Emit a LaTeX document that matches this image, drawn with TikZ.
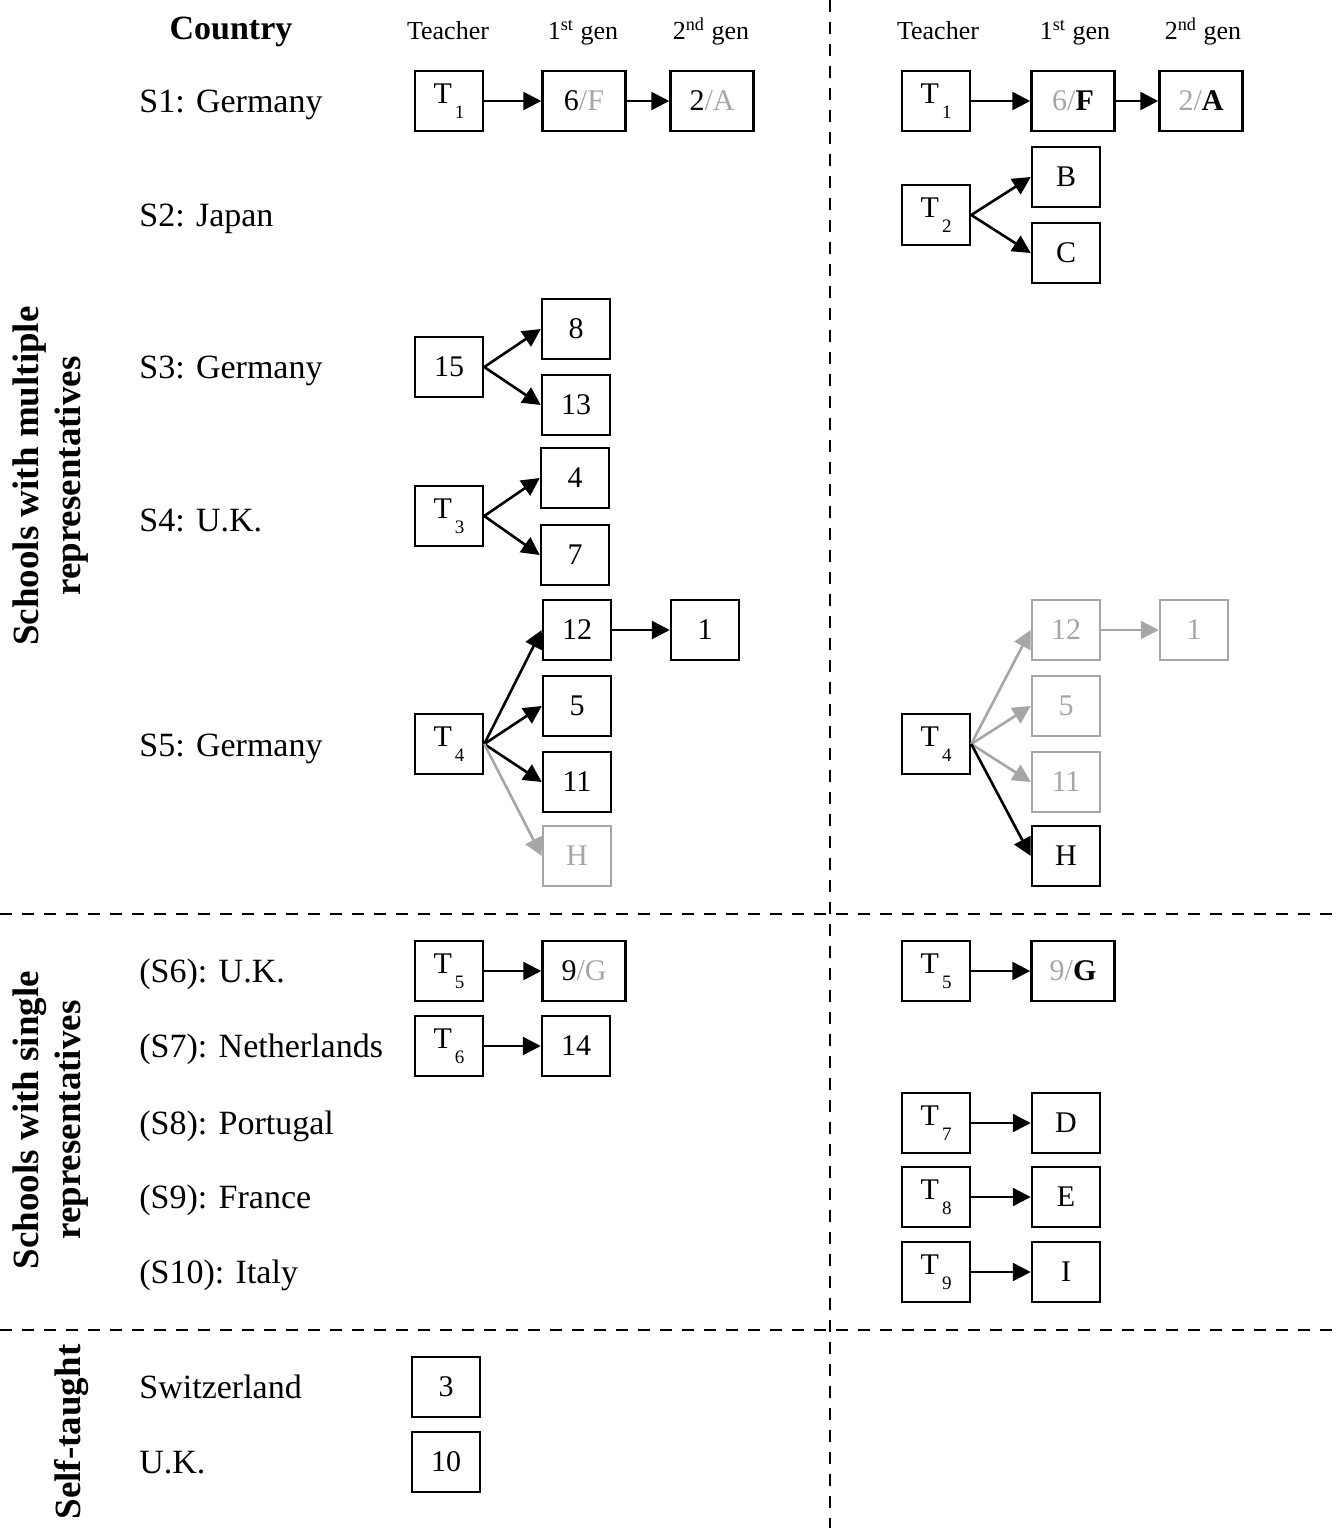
\documentclass[tikz,border=0pt]{standalone}
\usepackage{fontspec}
\setmainfont{Liberation Serif}
\usetikzlibrary{arrows.meta}
\definecolor{lgray}{RGB}{166,166,166}
\newcommand\Tsub[1]{T\raisebox{-7.5pt}{\fontsize{9.5}{10}\selectfont\,#1}}
\newcommand\gr[1]{\textcolor{lgray}{#1}}
\tikzset{
  bx/.style={draw, line width=1.25pt, minimum width=34pt, minimum height=30pt, inner sep=0pt, font=\fontsize{15}{18}\selectfont},
  wbx/.style={bx, minimum width=41.5pt},
  gbx/.style={bx, draw=lgray, text=lgray},
  arr/.style={line width=1.3pt, -{Triangle[length=9pt,width=9pt]}},
  garr/.style={arr, draw=lgray, color=lgray},
  hdr/.style={anchor=base, font=\fontsize{13}{15}\selectfont},
  rowlab/.style={anchor=base west, font=\fontsize{17}{20}\selectfont, inner sep=0pt},
  side/.style={rotate=90, align=center, font=\fontsize{18.5}{21}\selectfont\bfseries},
  sep/.style={line width=1.3pt, dash pattern=on 6pt off 5pt}
}
\begin{document}
\begin{tikzpicture}[x=0.5pt,y=-0.5pt]
\useasboundingbox (0,0) rectangle (1338,1528);
% separators
\coordinate (vtop) at (830,0);
\coordinate (vbot) at (830,1528);
\coordinate (h1l) at (0,914);
\coordinate (h1r) at (1338,914);
\coordinate (h2l) at (0,1330);
\coordinate (h2r) at (1338,1330);
\draw[sep] (vtop) -- (vbot);
\draw[sep] (h1l) -- (h1r);
\draw[sep] (h2l) -- (h2r);
% side labels
\node[side] (sideA) at (51,476) {Schools with multiple\\representatives};
\node[side] (sideB) at (51,1120) {Schools with single\\representatives};
\node[side] (sideC) at (72,1432) {Self-taught};
% headers
\node[anchor=base, font=\fontsize{17}{20}\selectfont\bfseries] (hcountry) at (231,39) {Country};
\node[hdr] (hT1) at (448,39) {Teacher};
\node[hdr] (hG1) at (583,39) {1\textsuperscript{st} gen};
\node[hdr] (hH1) at (711,39) {2\textsuperscript{nd} gen};
\node[hdr] (hT2) at (938,39) {Teacher};
\node[hdr] (hG2) at (1075,39) {1\textsuperscript{st} gen};
\node[hdr] (hH2) at (1203,39) {2\textsuperscript{nd} gen};
% row labels
\node[rowlab] (r1) at (139,112) {S1: Germany};
\node[rowlab] (r2) at (139,226) {S2: Japan};
\node[rowlab] (r3) at (139,378) {S3: Germany};
\node[rowlab] (r4) at (139,531) {S4: U.K.};
\node[rowlab] (r5) at (139,756) {S5: Germany};
\node[rowlab] (r6) at (139,982) {(S6): U.K.};
\node[rowlab] (r7) at (139,1057) {(S7): Netherlands};
\node[rowlab] (r8) at (139,1134) {(S8): Portugal};
\node[rowlab] (r9) at (139,1208) {(S9): France};
\node[rowlab] (r10) at (139,1283) {(S10): Italy};
\node[rowlab] (r11) at (139,1398) {Switzerland};
\node[rowlab] (r12) at (139,1473) {U.K.};
% ---------- left panel ----------
% S1
\node[bx] (lT1) at (449,101) {\Tsub{1}};
\node[wbx] (l6F) at (584,101) {6\gr{/F}};
\node[wbx] (l2A) at (712,101) {2\gr{/A}};
\draw[arr] (lT1) -- (l6F);
\draw[arr] (l6F) -- (l2A);
% S3
\node[bx] (l15) at (449,367) {15};
\node[bx] (l8) at (576,329) {8};
\node[bx] (l13) at (576,405) {13};
\draw[arr] (l15.east) -- (l8.west);
\draw[arr] (l15.east) -- (l13.west);
% S4
\node[bx] (lT3) at (449,516) {\Tsub{3}};
\node[bx] (l4) at (575,478) {4};
\node[bx] (l7) at (575,555) {7};
\draw[arr] (lT3.east) -- (l4.west);
\draw[arr] (lT3.east) -- (l7.west);
% S5
\node[bx] (lT4) at (449,744) {\Tsub{4}};
\node[bx] (l12) at (577,630) {12};
\node[bx] (l1) at (705,630) {1};
\node[bx] (l5) at (577,706) {5};
\node[bx] (l11) at (577,782) {11};
\node[gbx] (lH) at (577,856) {H};
\draw[arr] (lT4.east) -- (l12.west);
\draw[arr] (lT4.east) -- (l5.west);
\draw[arr] (lT4.east) -- (l11.west);
\draw[garr] (lT4.east) -- (lH.west);
\draw[arr] (l12) -- (l1);
% S6, S7
\node[bx] (lT5) at (449,971) {\Tsub{5}};
\node[wbx] (l9G) at (584,971) {9\gr{/G}};
\draw[arr] (lT5) -- (l9G);
\node[bx] (lT6) at (449,1046) {\Tsub{6}};
\node[bx] (l14) at (576,1046) {14};
\draw[arr] (lT6) -- (l14);
% self-taught
\node[bx] (l3) at (446,1387) {3};
\node[bx] (l10) at (446,1462) {10};
% ---------- right panel ----------
% S1
\node[bx] (rT1) at (936,101) {\Tsub{1}};
\node[wbx] (r6F) at (1073,101) {\gr{6/}\textbf{F}};
\node[wbx] (r2A) at (1201,101) {\gr{2/}\textbf{A}};
\draw[arr] (rT1) -- (r6F);
\draw[arr] (r6F) -- (r2A);
% S2
\node[bx] (rT2) at (936,215) {\Tsub{2}};
\node[bx] (rB) at (1066,177) {B};
\node[bx] (rC) at (1066,253) {C};
\draw[arr] (rT2.east) -- (rB.west);
\draw[arr] (rT2.east) -- (rC.west);
% S5
\node[bx] (rT4) at (936,744) {\Tsub{4}};
\node[gbx] (r12) at (1066,630) {12};
\node[gbx] (r1) at (1194,630) {1};
\node[gbx] (r5) at (1066,706) {5};
\node[gbx] (r11) at (1066,782) {11};
\node[bx] (rH) at (1066,856) {H};
\draw[garr] (rT4.east) -- (r12.west);
\draw[garr] (rT4.east) -- (r5.west);
\draw[garr] (rT4.east) -- (r11.west);
\draw[arr] (rT4.east) -- (rH.west);
\draw[garr] (r12) -- (r1);
% S6
\node[bx] (rT5) at (936,971) {\Tsub{5}};
\node[wbx] (r9G) at (1073,971) {\gr{9/}\textbf{G}};
\draw[arr] (rT5) -- (r9G);
% S8-S10
\node[bx] (rT7) at (936,1123) {\Tsub{7}};
\node[bx] (rD) at (1066,1123) {D};
\draw[arr] (rT7) -- (rD);
\node[bx] (rT8) at (936,1197) {\Tsub{8}};
\node[bx] (rE) at (1066,1197) {E};
\draw[arr] (rT8) -- (rE);
\node[bx] (rT9) at (936,1272) {\Tsub{9}};
\node[bx] (rI) at (1066,1272) {I};
\draw[arr] (rT9) -- (rI);
\end{tikzpicture}
\end{document}
